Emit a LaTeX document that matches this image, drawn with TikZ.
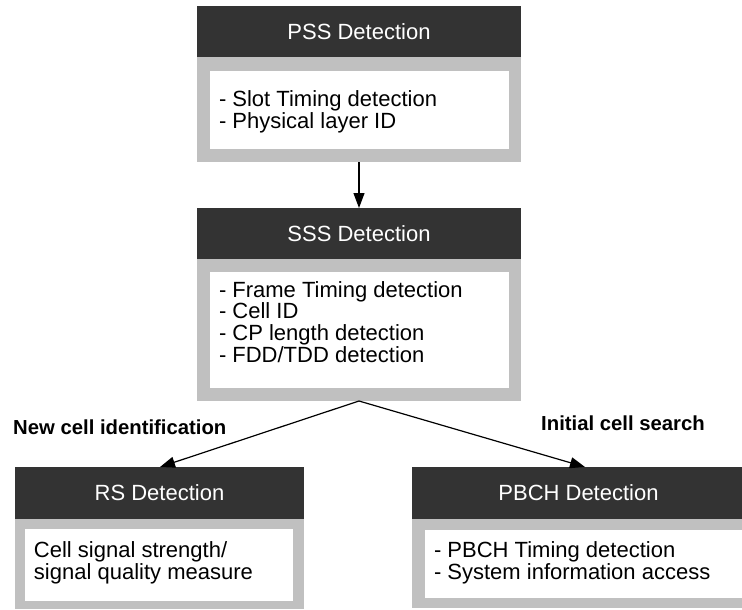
\documentclass[tikz,border=0pt]{standalone}
\usepackage{fontspec}
\setmainfont{Liberation Sans}
\usetikzlibrary{arrows.meta}
\definecolor{hdrdark}{HTML}{333333}
\definecolor{framegray}{HTML}{C0C0C0}
\begin{document}
\begin{tikzpicture}[x=1pt,y=-1pt,
  blk/.style={rectangle, inner sep=0pt, outer sep=0pt, anchor=north west},
  hdr/.style={blk, fill=hdrdark, text=white, font=\fontsize{22}{24}\selectfont},
  frm/.style={blk, fill=framegray},
  inr/.style={blk, fill=white},
  bodytxt/.style={anchor=north west, inner sep=0pt, outer sep=0pt, align=left, font=\fontsize{22}{21.7}\selectfont},
  lbl/.style={anchor=base west, inner sep=0pt, font=\bfseries\fontsize{20.3}{22}\selectfont},
  arr/.style={line width=1.2pt, -{Triangle[length=15pt,width=11pt]}}
]
\useasboundingbox (0,0) rectangle (742,610);
\fill[white] (0,0) rectangle (742,610);

% PSS
\node[hdr, minimum width=324pt, minimum height=51pt] (pssH) at (197,6) {PSS Detection};
\node[frm, minimum width=324pt, minimum height=105pt] (pssG) at (197,57) {};
\node[inr, minimum width=299pt, minimum height=78pt] (pssW) at (210,71) {};
\node[bodytxt] (pssT) at (219,89.7) {\rule{0pt}{17pt}- Slot Timing detection\\- Physical layer ID};

% SSS
\node[hdr, minimum width=324pt, minimum height=51pt] (sssH) at (197,208) {SSS Detection};
\node[frm, minimum width=324pt, minimum height=142pt] (sssG) at (197,259) {};
\node[inr, minimum width=299pt, minimum height=116pt] (sssW) at (210,272) {};
\node[bodytxt] (sssT) at (219,280) {\rule{0pt}{17pt}- Frame Timing detection\\- Cell ID\\- CP length detection\\- FDD/TDD detection};

% RS
\node[hdr, minimum width=289pt, minimum height=52pt] (rsH) at (15,467) {RS Detection};
\node[frm, minimum width=289pt, minimum height=90pt] (rsG) at (15,519) {};
\node[inr, minimum width=268pt, minimum height=72pt] (rsW) at (25,529) {};
\node[bodytxt] (rsT) at (34,540.7) {\rule{0pt}{17pt}Cell signal strength/\\signal quality measure};

% PBCH
\node[hdr, minimum width=333pt, minimum height=52pt] (pbchH) at (412,467) {PBCH Detection};
\node[frm, minimum width=333pt, minimum height=89pt] (pbchG) at (412,519) {};
\node[inr, minimum width=330pt, minimum height=68pt] (pbchW) at (425,530) {};
\node[bodytxt] (pbchT) at (434,540.3) {\rule{0pt}{17pt}- PBCH Timing detection\\- System information access};

% labels
\node[lbl] (newcell) at (13,434.5) {New cell identification};
\node[lbl] (initcell) at (541,430.5) {Initial cell search};

% connectors
\draw[arr] (pssG.south) -- (sssH.north);
\draw[arr] (sssG.south) -- ([xshift=0.5pt]rsH.north);
\draw[arr] (sssG.south) -- ([xshift=6.5pt]pbchH.north);
\end{tikzpicture}
\end{document}
